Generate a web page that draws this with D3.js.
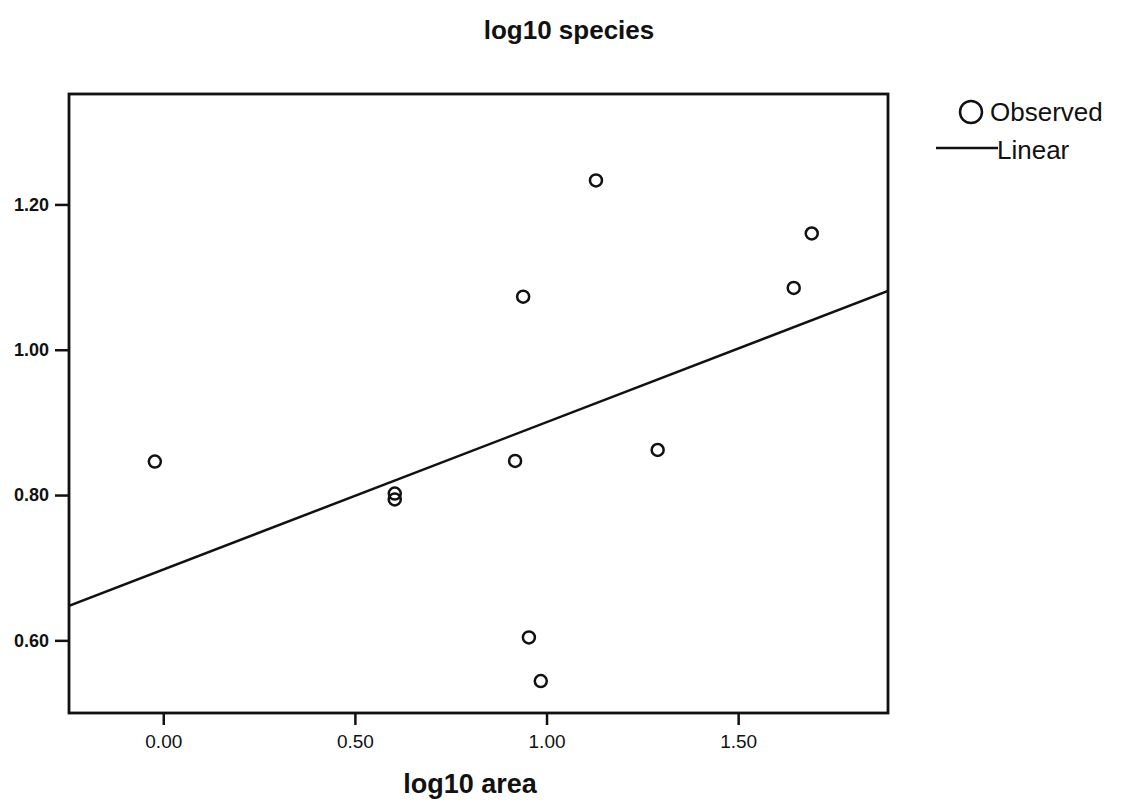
<!DOCTYPE html>
<html>
<head>
<meta charset="utf-8">
<script src="https://cdn.jsdelivr.net/npm/d3@7"></script>
<style>
  body { margin: 0; background: #fff; }
  svg text { font-family: "Liberation Sans", Arial, sans-serif; fill: #111; }
</style>
</head>
<body>
<svg id="chart" width="1121" height="805"></svg>
<script>
// observed values (log10 area, log10 species)
const logArea = [-0.022, 0.604, 0.604, 0.918, 0.939, 0.954, 0.985, 1.129, 1.290, 1.645, 1.692];
const logSpecies = [0.846, 0.802, 0.794, 0.847, 1.073, 0.604, 0.544, 1.233, 0.862, 1.085, 1.160];
const xTicks = [0, 0.5, 1.0, 1.5];
const yTicks = [0.6, 0.8, 1.0, 1.2];

const margin = { top: 94, right: 233, bottom: 92, left: 69 };
const width = 1121 - margin.left - margin.right;
const height = 805 - margin.top - margin.bottom;

const svg = d3.select("#chart");
const g = svg.append("g").attr("transform", `translate(${margin.left},${margin.top})`);

const x = d3.scaleLinear().domain([-0.246, 1.891]).range([0, width]);
const y = d3.scaleLinear().domain([0.5, 1.352]).range([height, 0]);

// least squares fit
const mx = d3.mean(logArea), my = d3.mean(logSpecies);
let sxy = 0, sxx = 0;
logArea.forEach((v, i) => {
  sxy += (v - mx) * (logSpecies[i] - my);
  sxx += (v - mx) * (v - mx);
});
const slope = sxy / sxx;
const intercept = my - slope * mx;

// frame
g.append("rect")
  .attr("width", width).attr("height", height)
  .attr("fill", "none").attr("stroke", "#111").attr("stroke-width", 2.8);

// axes
const xAxis = g.append("g")
  .attr("transform", `translate(0,${height})`)
  .call(d3.axisBottom(x).tickValues(xTicks).tickFormat(d3.format(".2f")).tickSize(12).tickPadding(10));
xAxis.select(".domain").remove();
xAxis.selectAll("line").attr("stroke", "#111").attr("stroke-width", 2.5);
xAxis.selectAll("text").style("font-size", "19px").attr("fill", "#111");

const yAxis = g.append("g")
  .call(d3.axisLeft(y).tickValues(yTicks).tickFormat(d3.format(".2f")).tickSize(14).tickPadding(6));
yAxis.select(".domain").remove();
yAxis.selectAll("line").attr("stroke", "#111").attr("stroke-width", 2.5);
yAxis.selectAll("text").style("font-size", "18px").style("font-weight", "bold").attr("fill", "#111");

// fit line
g.append("clipPath").attr("id", "clip")
  .append("rect").attr("width", width).attr("height", height);
const xd = x.domain();
g.append("line")
  .attr("clip-path", "url(#clip)")
  .attr("x1", x(xd[0])).attr("y1", y(intercept + slope * xd[0]))
  .attr("x2", x(xd[1])).attr("y2", y(intercept + slope * xd[1]))
  .attr("stroke", "#111").attr("stroke-width", 2.5);

// points
g.selectAll("circle.pt")
  .data(logArea)
  .enter()
  .append("circle")
  .attr("class", "pt")
  .attr("cx", (d) => x(d))
  .attr("cy", (d, i) => y(logSpecies[i]))
  .attr("r", 6)
  .attr("fill", "none")
  .attr("stroke", "#111")
  .attr("stroke-width", 2.5);

// titles
svg.append("text")
  .attr("x", 569).attr("y", 39)
  .attr("text-anchor", "middle")
  .style("font-size", "26px").style("font-weight", "bold")
  .text("log10 species");

svg.append("text")
  .attr("x", 470).attr("y", 793)
  .attr("text-anchor", "middle")
  .style("font-size", "27px").style("font-weight", "bold")
  .text("log10 area");

// legend
const legend = svg.append("g");
legend.append("circle")
  .attr("cx", 971).attr("cy", 112).attr("r", 11)
  .attr("fill", "none").attr("stroke", "#111").attr("stroke-width", 2.5);
legend.append("text")
  .attr("x", 990).attr("y", 121)
  .style("font-size", "26px")
  .text("Observed");
legend.append("line")
  .attr("x1", 936).attr("x2", 998).attr("y1", 148).attr("y2", 148)
  .attr("stroke", "#111").attr("stroke-width", 2.5);
legend.append("text")
  .attr("x", 997).attr("y", 159)
  .style("font-size", "26px")
  .text("Linear");
</script>
</body>
</html>
